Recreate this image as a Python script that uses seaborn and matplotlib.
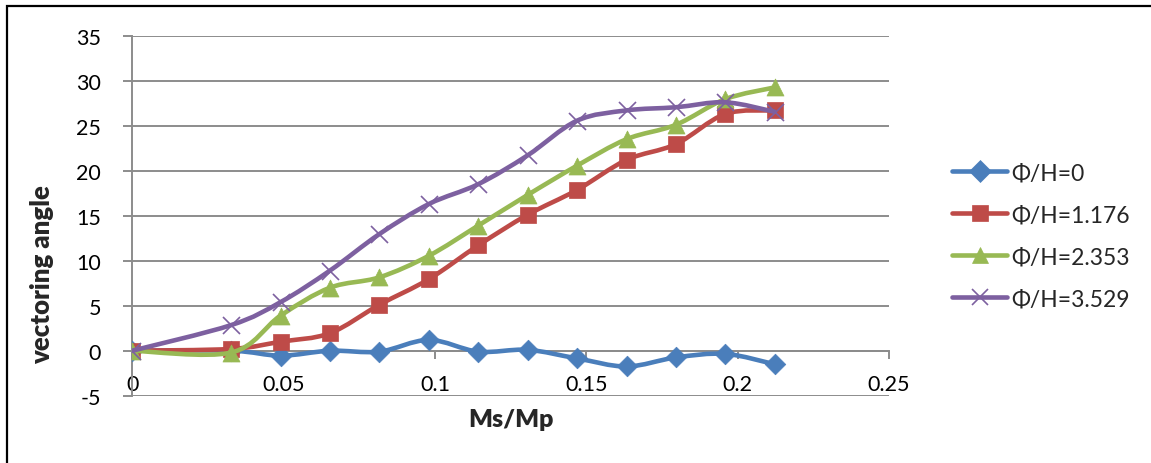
"""Vectoring angle vs. mass ratio, Excel-style smoothed lines."""

import matplotlib
matplotlib.use("Agg")
import matplotlib.pyplot as plt
from matplotlib.lines import Line2D
from matplotlib.path import Path
from matplotlib.patches import PathPatch, Rectangle
import numpy as np
import pandas as pd
import seaborn as sns

# ---- data ------------------------------------------------------------------
ms_mp = [0, 0.0327, 0.049, 0.0653, 0.0816, 0.098, 0.1143,
         0.1306, 0.1469, 0.1633, 0.1796, 0.1959, 0.2122]

angle_0 = [0, 0, -0.55, 0, -0.1, 1.2, -0.1, 0.1, -0.85, -1.75, -0.75, -0.35, -1.5]
angle_1176 = [0, 0.2, 1.0, 1.95, 5.1, 7.95, 11.7, 15.1, 17.85, 21.2, 22.95, 26.3, 26.7]
angle_2353 = [0, -0.2, 3.9, 7.0, 8.15, 10.55, 13.9, 17.3, 20.55, 23.5, 25.1, 27.95, 29.25]
angle_3529 = [0, 2.85, 5.4, 8.9, 12.95, 16.3, 18.5, 21.7, 25.55, 26.7, 27.05, 27.6, 26.55]

series_labels = ["Φ/H=0", "Φ/H=1.176", "Φ/H=2.353", "Φ/H=3.529"]
x_ticks = [0, 0.05, 0.1, 0.15, 0.2, 0.25]
x_tick_labels = ["0", "0.05", "0.1", "0.15", "0.2", "0.25"]
y_ticks = [-5, 0, 5, 10, 15, 20, 25, 30, 35]

colors = ["#4A7EBB", "#BE4B48", "#98B954", "#7D60A0"]
markers = ["D", "s", "^", "x"]
marker_sizes = [110, 130, 150, 150]

sns.set_theme(style="white")
plt.rcParams["font.family"] = ["Lato", "DejaVu Sans"]
plt.rcParams["axes.unicode_minus"] = False

GRID = "#8c8c8c"


def smooth_path(xs, ys):
    """Catmull-Rom style Bezier path through the points (Excel 'smoothed line')."""
    pts = np.column_stack([xs, ys]).astype(float)
    n = len(pts)
    verts = [pts[0]]
    codes = [Path.MOVETO]
    for i in range(n - 1):
        p0 = pts[i - 1] if i > 0 else pts[i]
        p1 = pts[i]
        p2 = pts[i + 1]
        p3 = pts[i + 2] if i + 2 < n else pts[i + 1]
        c1 = p1 + (p2 - p0) / 6.0
        c2 = p2 - (p3 - p1) / 6.0
        verts += [c1, c2, p2]
        codes += [Path.CURVE4] * 3
    return Path(verts, codes)


df = pd.DataFrame({
    "ms_mp": ms_mp * 4,
    "angle": angle_0 + angle_1176 + angle_2353 + angle_3529,
    "series": sum([[lab] * len(ms_mp) for lab in series_labels], []),
})

fig = plt.figure(figsize=(11.51, 4.64), dpi=100)
ax = fig.add_axes([0.1149, 0.145, 0.6574, 0.7759])

for y in y_ticks:
    ax.axhline(y, color=GRID, lw=1.4, zorder=1)

for idx, lab in enumerate(series_labels):
    sub = df[df["series"] == lab]
    z = 3 + idx * 2
    patch = PathPatch(smooth_path(sub["ms_mp"], sub["angle"]), facecolor="none",
                      edgecolor=colors[idx], lw=3.3, capstyle="round",
                      joinstyle="round", zorder=z)
    ax.add_patch(patch)
    if markers[idx] == "x":
        sns.scatterplot(data=sub, x="ms_mp", y="angle", marker="x", s=marker_sizes[idx],
                        color=colors[idx], linewidth=1.2, ax=ax, zorder=z + 1, legend=False)
    else:
        sns.scatterplot(data=sub, x="ms_mp", y="angle", marker=markers[idx],
                        s=marker_sizes[idx], color=colors[idx], edgecolor=colors[idx],
                        linewidth=0.5, ax=ax, zorder=z + 1, legend=False)

ax.set_xlim(0, 0.25)
ax.set_ylim(-5, 35)
ax.set_xticks(x_ticks)
ax.set_xticklabels(x_tick_labels)
ax.set_yticks(y_ticks)

for side in ["top", "right"]:
    ax.spines[side].set_visible(False)
ax.spines["bottom"].set_position(("data", 0))
ax.spines["bottom"].set_color(GRID)
ax.spines["bottom"].set_linewidth(1.4)
ax.spines["left"].set_color(GRID)
ax.spines["left"].set_linewidth(1.4)
ax.spines["bottom"].set_zorder(2)

ax.tick_params(axis="x", direction="out", length=6, width=1.4, color=GRID,
               pad=10.5, labelsize=15.5, labelcolor="black", bottom=True)
ax.tick_params(axis="y", direction="out", length=6.5, width=1.4, color=GRID,
               pad=16, labelsize=15.5, labelcolor="black", left=True)

ax.set_xlabel("Ms/Mp", fontsize=18, fontweight="heavy")
ax.xaxis.set_label_coords(0.5, -0.035)
ax.set_ylabel("vectoring angle", fontsize=18.5, fontweight="heavy")
ax.yaxis.set_label_coords(-0.1035, 0.338)

handles = [
    Line2D([], [], color=colors[i], lw=3.3, marker=markers[i],
           markersize=11 if markers[i] != "x" else 12,
           markeredgewidth=1.2 if markers[i] == "x" else 0.5,
           markerfacecolor=colors[i], markeredgecolor=colors[i])
    for i in range(len(series_labels))
]
fig.legend(handles, series_labels, loc="center left", bbox_to_anchor=(0.8275, 0.49),
           frameon=False, fontsize=16.5, handlelength=2.4, handletextpad=0.15,
           labelspacing=0.92, borderpad=0, borderaxespad=0)

# outer chart-area border (only left and top edges visible in the crop)
fig.add_artist(Rectangle((7 / 1151, -0.1), 1.2, 1.1 - 7.5 / 464,
                         transform=fig.transFigure, fill=False,
                         edgecolor="black", lw=1.6))

fig.savefig("out.png", dpi=100)
